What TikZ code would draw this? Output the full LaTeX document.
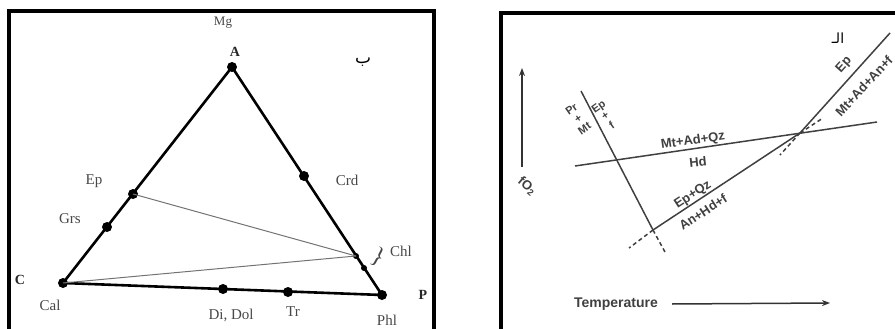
\documentclass[tikz,border=0pt]{standalone}
\usepackage{fontspec}
\setmainfont{Liberation Serif}
\newfontfamily\plotfont{Liberation Sans}
\newfontfamily\arabicfont[Script=Arabic]{DejaVu Sans}
\TeXXeTstate=1
\usetikzlibrary{arrows.meta}

\begin{document}
\begin{tikzpicture}[x=1pt,y=-1pt,
  panel/.style={draw, line width=4pt},
  edge/.style={line width=2.6pt, line join=round},
  tie/.style={line width=1pt, black!55},
  mineral/.style={circle, fill, inner sep=0pt, minimum size=10pt},
  chl/.style={circle, fill, inner sep=0pt, minimum size=6pt},
  lbl/.style={font=\fontsize{15}{15}\selectfont, text=black!72, inner sep=0pt},
  corner/.style={font=\bfseries\fontsize{14}{14}\selectfont, text=black!85, inner sep=0pt},
  rxn/.style={line width=1.5pt, black!75},
  meta/.style={rxn, dash pattern=on 4pt off 3pt},
  rlbl/.style={font=\plotfont\bfseries\fontsize{13}{13}\selectfont, text=black!75, inner sep=0pt},
  slbl/.style={rlbl, font=\plotfont\bfseries\fontsize{11}{11.5}\selectfont, align=center, rotate=35},
  axis/.style={line width=1.5pt, black!80, -{Stealth[length=8pt,width=6pt]}}
]
\useasboundingbox (0,0) rectangle (895,329);
\clip (0,0) rectangle (895,329);

\draw[panel] (9,11) rectangle (434,350);
\draw[panel] (501,13) rectangle (910,350);

\node[mineral] (A) at (232,67) {};
\node[mineral] (Cal) at (63,283) {};
\node[mineral] (Phl) at (382,295) {};
\node[mineral] (Ep) at (133,194) {};
\node[mineral] (Grs) at (107,227) {};
\node[mineral] (Crd) at (304,176) {};
\node[chl] (Chl1) at (356,256) {};
\node[chl] (Chl2) at (364,268) {};
\node[mineral] (Di) at (223,289) {};
\node[mineral] (Tr) at (288,292) {};

\draw[edge] (A.center) -- (Phl.center) -- (Cal.center) -- cycle;
\draw[tie] (Ep.center) -- (Chl1.center);
\draw[tie] (Cal.center) -- (Chl1.center);

\node[lbl, font=\fontsize{13}{13}\selectfont] (lMg) at (223,23) {Mg};
\node[corner] (lA) at (235,52) {A};
\node[lbl] (lEp) at (94,181) {Ep};
\node[lbl] (lGrs) at (70,219) {Grs};
\node[lbl] (lCrd) at (347,180) {Crd};
\node[lbl, font=\fontsize{24}{24}\selectfont, rotate=-28] (brace) at (378,257) {\}};
\node[lbl] (lChl) at (401,251) {Chl};
\node[corner] (lC) at (20,280) {C};
\node[lbl] (lCal) at (50,305) {Cal};
\node[lbl] (lDi) at (231,315) {Di, Dol};
\node[lbl] (lTr) at (293,312) {Tr};
\node[lbl] (lPhl) at (387,320) {Phl};
\node[corner] (lP) at (423,295) {P};
\node[inner sep=0pt, font=\arabicfont\fontsize{17}{17}\selectfont] (ba) at (363,62) {\beginR ب\endR};

\coordinate (pt) at (581,91);
\coordinate (x1) at (615,161);
\coordinate (x2) at (653,230);
\coordinate (pb) at (665,252);
\coordinate (hl) at (575,166);
\coordinate (hr) at (877,122);
\coordinate (x3) at (800,133);
\coordinate (ut) at (890,33);
\coordinate (le) at (629,248);
\coordinate (ue) at (823,118);
\coordinate (de) at (780,155);

\draw[rxn] (pt) -- (x2);
\draw[meta] (x2) -- (pb);
\draw[rxn] (hl) -- (hr);
\draw[rxn] (x2) -- (x3) -- (ut);
\draw[meta] (x2) -- (le);
\draw[meta] (x3) -- (ue);
\draw[meta] (x3) -- (de);

\node[slbl] (lPrMt) at (578,119) {Pr\\+\\Mt};
\node[slbl] (lEpf) at (605,116) {Ep\\+\\f};
\node[rlbl, rotate=8] (lMAQ) at (693,141) {Mt+Ad+Qz};
\node[rlbl, rotate=6] (lHd) at (698,162) {Hd};
\node[rlbl, rotate=33] (lEQ) at (693,195) {Ep+Qz};
\node[rlbl, rotate=33] (lAHf) at (703,212) {An+Hd+f};
\node[rlbl, rotate=48] (lEp2) at (844,65) {Ep};
\node[rlbl, rotate=47] (lMAAf) at (864,86) {Mt+Ad+An+f};

\coordinate (fB) at (522,167);
\coordinate (fT) at (522,68);
\draw[axis] (fB) -- (fT);
\node[rlbl, rotate=-40] (lfO) at (527,186) {fO\textsubscript{2}};

\node[rlbl, font=\plotfont\bfseries\fontsize{14}{14}\selectfont] (lT) at (616,304) {Temperature};
\coordinate (tS) at (672,304);
\coordinate (tE) at (830,303);
\draw[axis] (tS) -- (tE);

\node[inner sep=0pt, font=\arabicfont\fontsize{14}{14}\selectfont] (al) at (838,38) {\beginR الـ\endR};
\end{tikzpicture}
\end{document}
